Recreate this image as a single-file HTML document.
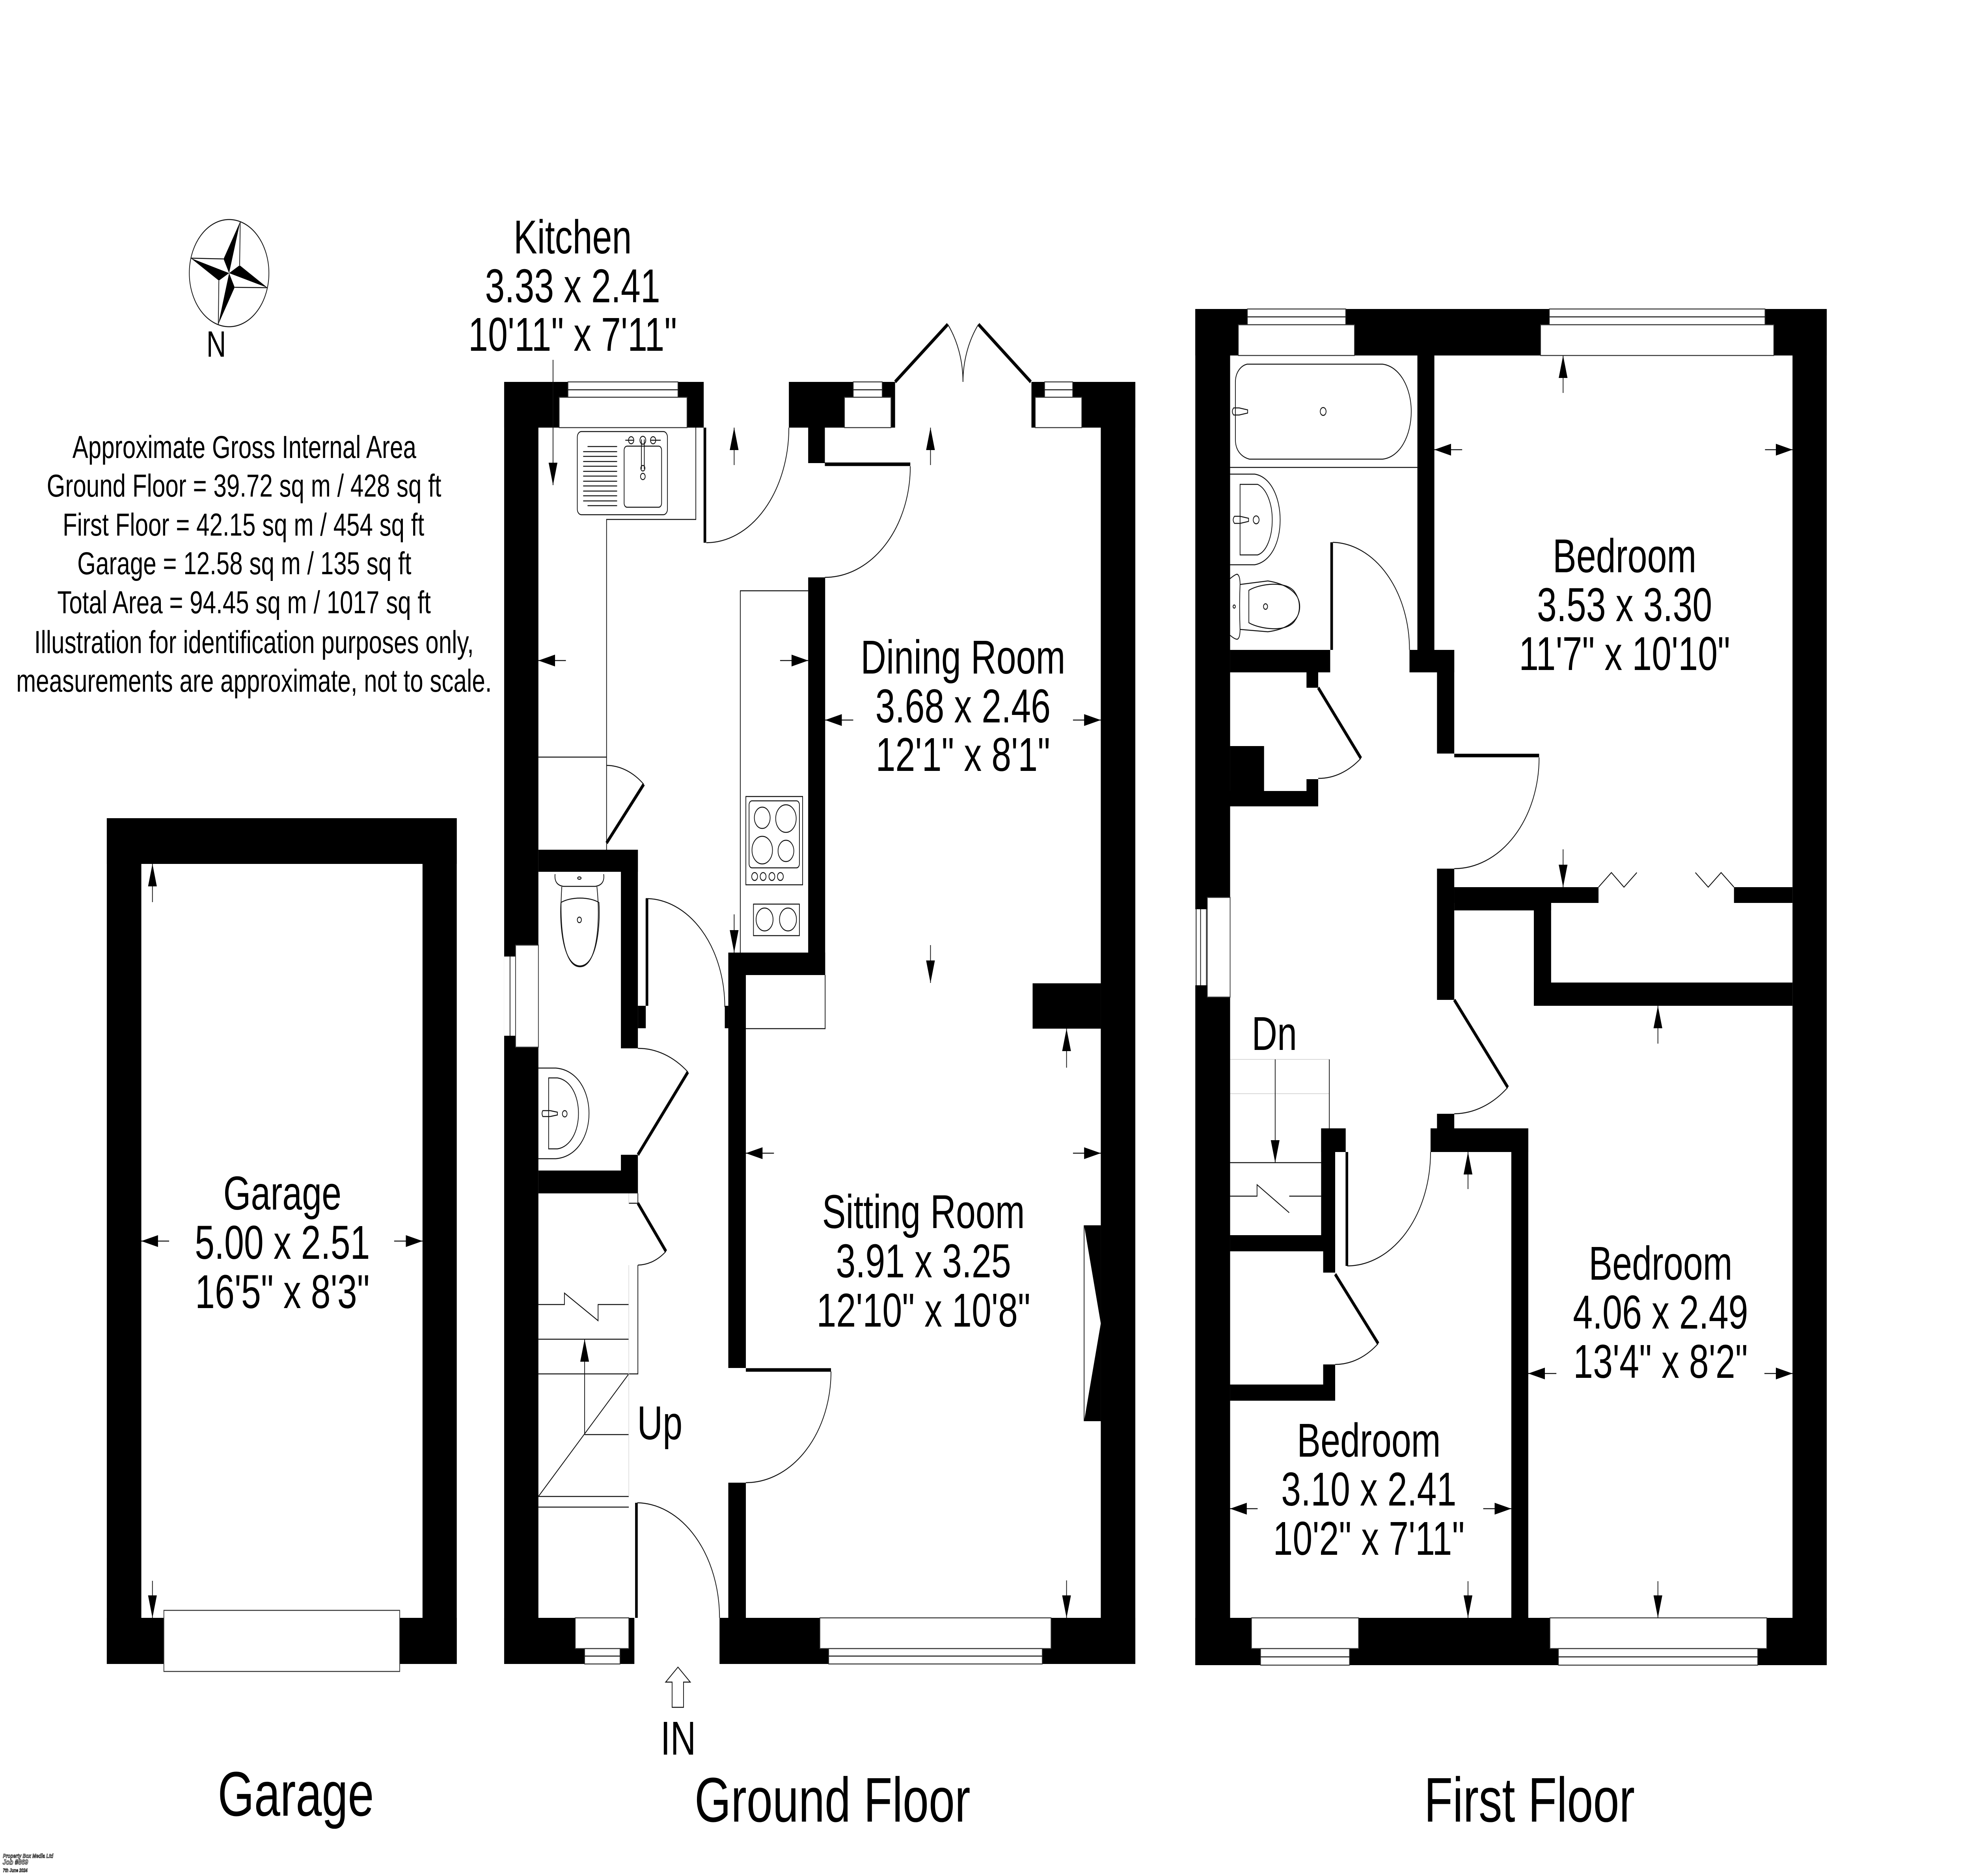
<!DOCTYPE html>
<html>
<head>
<meta charset="utf-8">
<title>Floor plan</title>
<style>
html,body{margin:0;padding:0;background:#fff;width:100%;height:100%;overflow:hidden}
svg{display:block;width:100vw;height:100vh}
text{font-family:"Liberation Sans",Arial,sans-serif;fill:#000}
.r{font-size:121px;text-anchor:middle}
.s{font-size:81px;text-anchor:middle}
.f{font-size:160px;text-anchor:middle}
.l{fill:none;stroke:#111;stroke-width:2.5}
.g{fill:none;stroke:#d8d8d8;stroke-width:2}
.w{fill:#fff;stroke:#333;stroke-width:2.5}
.d{fill:none;stroke:#000;stroke-width:9}
.a{stroke:#111;stroke-width:2.5;fill:none;marker-end:url(#h)}
.t{fill:#fff;stroke:#000;stroke-width:1;font-weight:bold;font-style:italic}
</style>
</head>
<body>
<svg xmlns="http://www.w3.org/2000/svg" viewBox="0 0 6736 4760" preserveAspectRatio="none">
<defs>
<marker id="h" markerUnits="userSpaceOnUse" markerWidth="60" markerHeight="32" refX="57" refY="15" orient="auto"><path d="M0 0L57 15L0 30z" fill="#000"/></marker>
</defs>
<rect width="6736" height="4760" fill="#fff"/>

<!-- GARAGE -->
<g fill="#000">
<rect x="365" y="2076" width="1196" height="116"/>
<rect x="365" y="2076" width="118" height="2146"/>
<rect x="1444" y="2076" width="117" height="2146"/>
<rect x="365" y="4105" width="1196" height="117"/>
</g>
<rect class="w" x="560" y="4086" width="806" height="155"/>

<!-- GROUND FLOOR WALLS -->
<g fill="#000">
<rect x="1723" y="969" width="682" height="116"/>
<rect x="2696" y="969" width="363" height="116"/>
<rect x="3525" y="969" width="355" height="116"/>
<rect x="3762" y="969" width="118" height="3253"/>
<rect x="1723" y="969" width="117" height="3253"/>
<rect x="1723" y="4105" width="445" height="117"/>
<rect x="2459" y="4105" width="1421" height="117"/>
<rect x="2762" y="1085" width="57" height="90"/>
<rect x="2762" y="1465" width="58" height="1009"/>
<rect x="2489" y="2417" width="331" height="57"/>
<rect x="2489" y="2417" width="60" height="1054"/>
<rect x="2489" y="3762" width="60" height="460"/>
<rect x="2477" y="2552" width="12" height="57"/>
<rect x="3529" y="2495" width="233" height="115"/>
<rect x="1840" y="2156" width="340" height="56"/>
<rect x="2122" y="2156" width="58" height="504"/>
<rect x="2180" y="2552" width="27" height="57"/>
<rect x="2122" y="2930" width="58" height="98"/>
<rect x="1840" y="2970" width="340" height="58"/>
<polygon points="3705,3109 3762,3109 3762,3606 3705,3606 3762,3358"/>
</g>
<!-- ground windows -->
<rect class="w" x="1941" y="969" width="376" height="39"/><path class="l" d="M1941 989H2317"/>
<rect class="w" x="1911" y="1008" width="437" height="77"/>
<rect class="w" x="2916" y="969" width="99" height="39"/><path class="l" d="M2916 989H3015"/>
<rect class="w" x="2886" y="1008" width="159" height="77"/>
<rect class="w" x="3570" y="969" width="96" height="39"/><path class="l" d="M3570 989H3666"/>
<rect class="w" x="3538" y="1008" width="159" height="77"/>
<rect class="w" x="1723" y="2427" width="39" height="201" style="stroke:none"/><path class="l" d="M1743 2427V2628M1762 2427V2628"/>
<rect class="w" x="1762" y="2398" width="78" height="259"/>
<rect class="w" x="1966" y="4105" width="183" height="78"/>
<rect class="w" x="1998" y="4183" width="121" height="39"/><path class="l" d="M1998 4202H2119"/>
<rect class="w" x="2802" y="4105" width="790" height="78"/>
<rect class="w" x="2832" y="4183" width="730" height="39"/><path class="l" d="M2832 4202H3562"/>
<!-- ground thin lines -->
<path class="l" d="M2378 1085V1318H2073V2156M1840 1921H2073M2530 2417V1499H2762M2820 2474V2610H2549M3705 3109V3606"/>
<path class="l" d="M2180 3028V3053M2149 3053H2180M2180 3210V3486H1840M1840 3398H2149M1840 3310H1929V3281L2044 3351V3310H2149M2149 3486L1840 3797M1998 3640H2149M1840 3797H2149M1840 3824H2149"/>
<path class="g" d="M2149 3028V3053M2149 3210V3797"/>
<line class="a" x1="1998" y1="3640" x2="1998" y2="3398"/>
<!-- ground doors -->
<path class="d" d="M2409 1085V1377M2819 1178H3111M2211 2280V2552M2180 2930L2351 2720M2180 3053L2276 3175M2175 3813V4105M2549 3476H2840M2073 2139L2200 1990M3059 969L3239 823M3523 969L3344 823"/>
<path class="l" d="M2414 1377A282 292 0 0 0 2696 1085M3111 1183A292 282 0 0 1 2819 1465M2207 2280A270 275 0 0 1 2477 2555M2180 2660A270 270 0 0 1 2351 2720M2276 3175A155 155 0 0 1 2180 3210M2178 3813A285 292 0 0 1 2459 4105M2840 3480A291 282 0 0 1 2549 3762M2073 1942A197 197 0 0 1 2200 1990M3239 823A232 232 0 0 1 3291 969M3344 823A232 232 0 0 0 3291 969"/>
<!-- sink -->
<rect class="l" x="1973" y="1095" width="308" height="211" rx="14"/>
<rect class="l" x="2133" y="1132" width="128" height="155" rx="10"/>
<path class="l" d="M2008 1133H2109M1993 1146H2109M1993 1158H2109M1993 1171H2109M1993 1183H2109M1993 1196H2109M1993 1208H2109M1993 1221H2109M1993 1233H2109M1993 1246H2109M1993 1258H2109M1993 1271H2109M2008 1283H2109"/>
<circle class="l" cx="2197" cy="1117" r="10"/><circle class="l" cx="2157" cy="1117" r="9"/><circle class="l" cx="2232" cy="1117" r="9"/>
<path class="l" d="M2137 1117H2165M2224 1117H2258M2192 1115V1190M2202 1115V1190"/>
<circle class="l" cx="2197" cy="1188" r="7"/><circle class="l" cx="2197" cy="1209" r="8"/>
<!-- hob -->
<rect class="l" x="2549" y="2021" width="194" height="224"/>
<rect class="l" x="2560" y="2032" width="172" height="170" rx="10"/>
<circle class="l" cx="2605" cy="2075" r="27"/><circle class="l" cx="2686" cy="2077" r="35"/>
<circle class="l" cx="2605" cy="2157" r="35"/><circle class="l" cx="2686" cy="2159" r="27"/>
<circle class="l" cx="2579" cy="2224" r="10"/><circle class="l" cx="2608" cy="2224" r="10"/><circle class="l" cx="2638" cy="2224" r="10"/><circle class="l" cx="2667" cy="2224" r="10"/>
<rect class="l" x="2575" y="2294" width="157" height="80"/>
<circle class="l" cx="2613" cy="2333" r="29"/><circle class="l" cx="2693" cy="2333" r="29"/>
<!-- WC ground -->
<path class="l" d="M1897 2218Q1893 2245 1925 2249H2035Q2068 2245 2063 2218"/>
<ellipse class="l" cx="1980" cy="2228" rx="6" ry="3"/>
<path class="l" d="M1920 2250C1912 2330 1920 2453 1982 2453C2044 2453 2052 2330 2040 2250"/>
<path class="l" d="M1917 2290C1950 2275 2015 2275 2047 2290C2052 2350 2040 2450 1982 2451C1925 2450 1912 2350 1917 2290Z"/>
<circle class="l" cx="1980" cy="2334" r="7"/>
<path class="l" d="M1840 2710H1900C1975 2715 2013 2770 2013 2825C2013 2880 1975 2935 1900 2940H1840"/>
<path class="l" d="M1875 2735H1905C1950 2740 1977 2780 1977 2825C1977 2870 1950 2910 1905 2915H1875Z"/>
<path class="l" d="M1855 2818H1880L1905 2822V2829L1880 2833H1855Q1850 2825 1855 2818Z"/><circle class="l" cx="1930" cy="2826" r="8"/>
<!-- IN arrow -->
<path class="l" d="M2317 4230L2359 4268H2336V4332H2297V4268H2275Z"/>

<!-- FIRST FLOOR WALLS -->
<g fill="#000">
<rect x="4085" y="784" width="2158" height="118"/>
<rect x="4085" y="784" width="119" height="3441"/>
<rect x="6126" y="784" width="117" height="3441"/>
<rect x="4085" y="4105" width="2158" height="120"/>
<rect x="4844" y="902" width="58" height="750"/>
<rect x="4204" y="1649" width="342" height="57"/>
<rect x="4817" y="1649" width="153" height="57"/>
<rect x="4911" y="1649" width="59" height="263"/>
<rect x="4465" y="1706" width="40" height="39"/>
<rect x="4465" y="1977" width="40" height="69"/>
<rect x="4204" y="2007" width="301" height="39"/>
<rect x="4204" y="1893" width="116" height="153"/>
<rect x="4911" y="2204" width="59" height="333"/>
<rect x="4970" y="2251" width="493" height="40"/>
<rect x="4970" y="2251" width="331" height="59"/>
<rect x="5242" y="2251" width="59" height="301"/>
<rect x="5242" y="2493" width="884" height="59"/>
<rect x="5926" y="2251" width="200" height="40"/>
<rect x="4911" y="2826" width="59" height="40"/>
<rect x="4889" y="2863" width="334" height="60"/>
<rect x="5165" y="2863" width="58" height="1242"/>
<rect x="4515" y="2863" width="84" height="60"/>
<rect x="4515" y="2863" width="48" height="312"/>
<rect x="4522" y="3134" width="41" height="95"/>
<rect x="4204" y="3134" width="318" height="41"/>
<rect x="4522" y="3462" width="41" height="92"/>
<rect x="4204" y="3513" width="359" height="41"/>
</g>
<!-- first floor windows -->
<rect class="w" x="4263" y="784" width="336" height="40"/><path class="l" d="M4263 804H4599"/>
<rect class="w" x="4232" y="824" width="397" height="78"/>
<rect class="w" x="5295" y="784" width="737" height="40"/><path class="l" d="M5295 804H6032"/>
<rect class="w" x="5265" y="824" width="797" height="78"/>
<rect class="w" x="4085" y="2307" width="41" height="193" style="stroke:none"/><path class="l" d="M4088 2307V2500M4103 2307V2500M4123 2307V2500"/>
<rect class="w" x="4126" y="2277" width="78" height="253"/>
<rect class="w" x="4277" y="4105" width="366" height="78"/>
<rect class="w" x="4308" y="4183" width="304" height="42"/><path class="l" d="M4308 4204H4612"/>
<rect class="w" x="5297" y="4105" width="741" height="78"/>
<rect class="w" x="5326" y="4183" width="681" height="42"/><path class="l" d="M5326 4204H6007"/>
<!-- first floor doors -->
<path class="d" d="M4551 1376V1649M4505 1745L4651 1924M4970 1917H5260M4970 2537L5153 2759M4603 2923V3212M4563 3233L4710 3409"/>
<path class="l" d="M4555 1376A268 273 0 0 1 4817 1649M4651 1924A230 230 0 0 1 4505 1975M5260 1922A290 282 0 0 1 4970 2204M5153 2759A288 288 0 0 1 4970 2826M4889 2923A285 289 0 0 1 4604 3212M4710 3409A229 229 0 0 1 4563 3462"/>
<path class="l" d="M5463 2251L5507 2214L5550 2251L5594 2214M5926 2251L5882 2214L5838 2251L5794 2214"/>
<!-- stairs -->
<path class="g" d="M4204 2688H4543M4204 2775H4543"/>
<path class="l" d="M4543 2688V2863M4204 2950H4515M4204 3035H4296V3006L4406 3077M4406 3035H4515"/>
<line class="a" x1="4358" y1="2688" x2="4358" y2="2950"/>
<!-- bathroom -->
<path class="l" d="M4204 1186H4844"/>
<path class="l" d="M4262 924H4725C4785 930 4823 985 4823 1044C4823 1105 4785 1160 4725 1165H4270C4245 1160 4222 1145 4222 1115V970C4222 945 4240 928 4262 924Z"/>
<path class="l" d="M4216 1035H4235L4264 1040V1048L4235 1053H4216Q4207 1044 4216 1035Z"/><circle class="l" cx="4522" cy="1044" r="10"/>
<path class="l" d="M4204 1203H4288C4345 1210 4375 1265 4375 1319C4375 1375 4345 1425 4288 1433H4204"/>
<path class="l" d="M4238 1229H4298C4330 1240 4348 1280 4348 1319C4348 1360 4330 1400 4298 1408H4238Z"/>
<path class="l" d="M4219 1310H4238L4267 1315V1323L4238 1328H4219Q4210 1319 4219 1310Z"/><circle class="l" cx="4293" cy="1319" r="10"/>
<path class="l" d="M4204 1468Q4222 1457 4228 1457Q4238 1460 4238 1483Q4235 1540 4238 1597Q4238 1620 4228 1622Q4220 1622 4204 1612"/>
<path class="l" d="M4238 1483L4333 1474C4385 1480 4442 1500 4442 1539C4442 1580 4385 1598 4333 1603L4238 1597"/>
<path class="l" d="M4268 1498C4300 1482 4400 1470 4427 1505C4445 1525 4445 1555 4427 1573C4400 1608 4300 1595 4268 1580Z"/>
<circle class="l" cx="4325" cy="1539" r="7"/><circle class="l" cx="4218" cy="1539" r="4"/>

<!-- DIMENSION ARROWS -->
<line class="a" x1="521" y1="2289" x2="521" y2="2192"/>
<line class="a" x1="521" y1="4011" x2="521" y2="4105"/>
<line class="a" x1="578" y1="3149" x2="483" y2="3149"/>
<line class="a" x1="1347" y1="3149" x2="1444" y2="3149"/>
<line class="a" x1="1890" y1="913" x2="1890" y2="1231"/>
<line class="a" x1="2509" y1="1180" x2="2509" y2="1085"/>
<line class="a" x1="1934" y1="1676" x2="1840" y2="1676"/>
<line class="a" x1="2666" y1="1676" x2="2762" y2="1676"/>
<line class="a" x1="2509" y1="2320" x2="2509" y2="2417"/>
<line class="a" x1="3180" y1="1180" x2="3180" y2="1085"/>
<line class="a" x1="3180" y1="2398" x2="3180" y2="2494"/>
<line class="a" x1="2916" y1="1827" x2="2820" y2="1827"/>
<line class="a" x1="3667" y1="1827" x2="3762" y2="1827"/>
<line class="a" x1="3645" y1="2709" x2="3645" y2="2610"/>
<line class="a" x1="2645" y1="2926" x2="2549" y2="2926"/>
<line class="a" x1="3667" y1="2926" x2="3762" y2="2926"/>
<line class="a" x1="3645" y1="4010" x2="3645" y2="4105"/>
<line class="a" x1="5342" y1="997" x2="5342" y2="902"/>
<line class="a" x1="4997" y1="1141" x2="4902" y2="1141"/>
<line class="a" x1="6032" y1="1141" x2="6126" y2="1141"/>
<line class="a" x1="5342" y1="2155" x2="5342" y2="2251"/>
<line class="a" x1="5666" y1="2648" x2="5666" y2="2552"/>
<line class="a" x1="5319" y1="3485" x2="5223" y2="3485"/>
<line class="a" x1="6030" y1="3485" x2="6126" y2="3485"/>
<line class="a" x1="5666" y1="4012" x2="5666" y2="4105"/>
<line class="a" x1="5017" y1="3017" x2="5017" y2="2923"/>
<line class="a" x1="4298" y1="3828" x2="4204" y2="3828"/>
<line class="a" x1="5069" y1="3828" x2="5165" y2="3828"/>
<line class="a" x1="5017" y1="4012" x2="5017" y2="4105"/>

<!-- COMPASS -->
<circle cx="783" cy="693" r="136" fill="none" stroke="#111" stroke-width="2.5"/>
<path fill="#000" d="M783 693L821 562L764 657ZM783 693L652 655L748 712ZM783 693L802 729L746 823ZM783 693L914 730L819 673Z"/>
<path class="l" d="M821 562L819 673M652 655L764 657M746 823L748 712M914 730L802 729"/>
<text x="739" y="905" font-size="93" text-anchor="middle">N</text>

<!-- AREA TEXT -->
<text class="s" x="835" y="1162">Approximate Gross Internal Area</text>
<text class="s" x="834" y="1260">Ground Floor = 39.72 sq m / 428 sq ft</text>
<text class="s" x="832" y="1359">First Floor = 42.15 sq m / 454 sq ft</text>
<text class="s" x="835" y="1457">Garage = 12.58 sq m / 135 sq ft</text>
<text class="s" x="834" y="1556">Total Area = 94.45 sq m / 1017 sq ft</text>
<text class="s" x="868" y="1657">Illustration for identification purposes only,</text>
<text class="s" x="868" y="1755">measurements are approximate, not to scale.</text>

<!-- ROOM LABELS -->
<text class="r" x="1957" y="643">Kitchen</text>
<text class="r" x="1957" y="767">3.33 x 2.41</text>
<text class="r" x="1957" y="890">10'11" x 7'11"</text>
<text class="r" x="3291" y="1709">Dining Room</text>
<text class="r" x="3291" y="1833">3.68 x 2.46</text>
<text class="r" x="3291" y="1956">12'1" x 8'1"</text>
<text class="r" x="3156" y="3116">Sitting Room</text>
<text class="r" x="3156" y="3241">3.91 x 3.25</text>
<text class="r" x="3156" y="3366">12'10" x 10'8"</text>
<text class="r" x="965" y="3069">Garage</text>
<text class="r" x="965" y="3194">5.00 x 2.51</text>
<text class="r" x="965" y="3319">16'5" x 8'3"</text>
<text class="r" x="2255" y="3652">Up</text>
<text class="r" x="2318" y="4452">IN</text>
<text class="r" x="4355" y="2664">Dn</text>
<text class="r" x="5552" y="1452">Bedroom</text>
<text class="r" x="5552" y="1576">3.53 x 3.30</text>
<text class="r" x="5552" y="1700">11'7" x 10'10"</text>
<text class="r" x="5675" y="3247">Bedroom</text>
<text class="r" x="5675" y="3371">4.06 x 2.49</text>
<text class="r" x="5675" y="3496">13'4" x 8'2"</text>
<text class="r" x="4678" y="3696">Bedroom</text>
<text class="r" x="4678" y="3820">3.10 x 2.41</text>
<text class="r" x="4678" y="3945">10'2" x 7'11"</text>

<text class="f" x="1011" y="4607">Garage</text>
<text class="f" x="2845" y="4622">Ground Floor</text>
<text class="f" x="5227" y="4622">First Floor</text>

<!-- CREDIT -->
<text class="t" x="10" y="4714" font-size="15" textLength="172" lengthAdjust="spacingAndGlyphs">Property Box Media Ltd</text>
<text class="t" x="9" y="4731" font-size="18" textLength="87" lengthAdjust="spacingAndGlyphs">Job #869</text>
<text class="t" x="10" y="4750" font-size="13" textLength="84" lengthAdjust="spacingAndGlyphs">7th June 2024</text>
</svg>
</body>
</html>
